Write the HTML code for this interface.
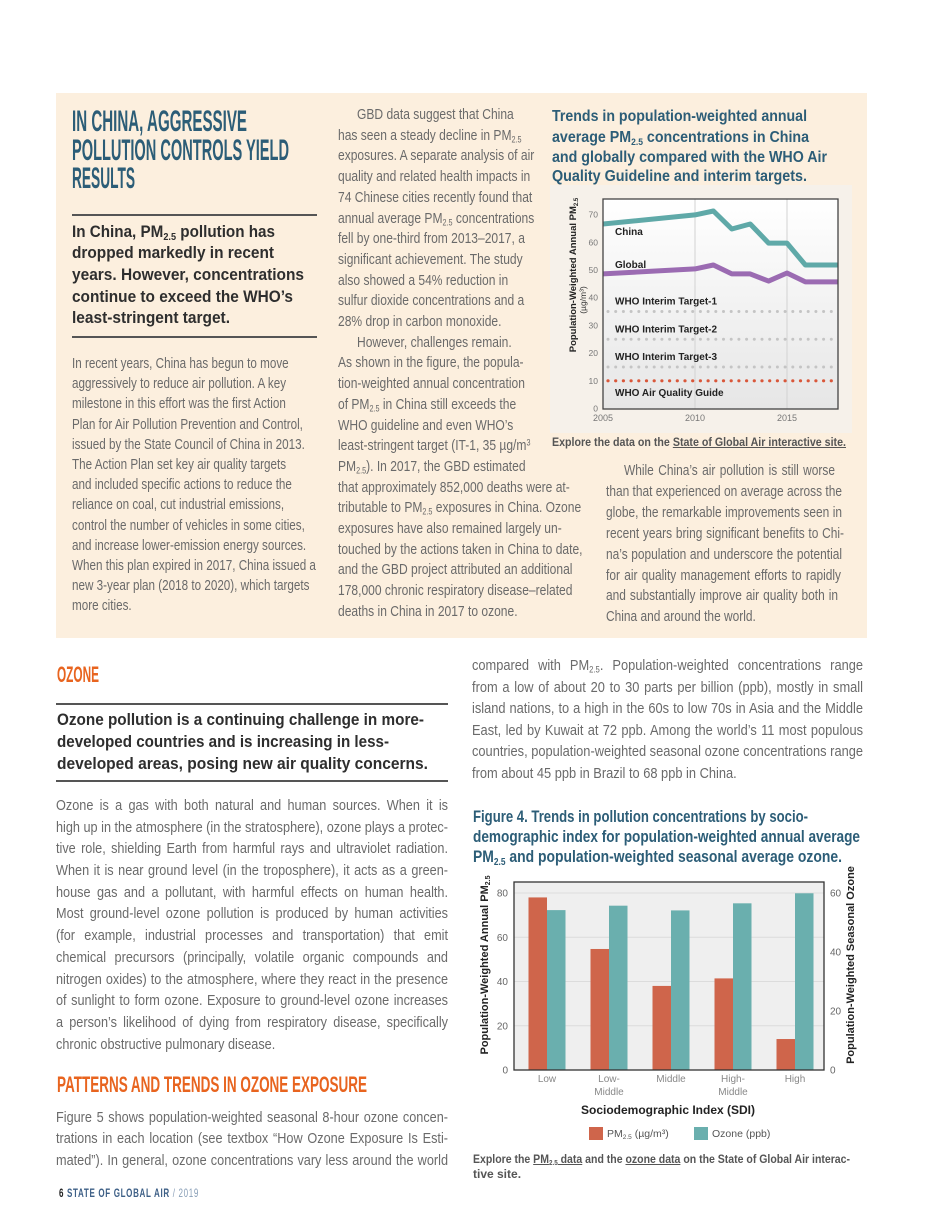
<!DOCTYPE html>
<html><head><meta charset="utf-8">
<style>
html,body{margin:0;padding:0;background:#fff;}
#page{position:relative;width:950px;height:1230px;overflow:hidden;background:#fff;font-family:"Liberation Sans Narrow","Liberation Sans",sans-serif;}
.l{position:absolute;white-space:nowrap;display:inline-block;line-height:1;transform-origin:0 50%;}
.b{font-size:15px;color:#6a6a6a;line-height:15px;}
.j{text-align:justify;text-align-last:justify;}
.h{font-weight:bold;color:#2c5d77;}
.sh{font-weight:bold;color:#2e2e2e;font-size:17px;}
.or{font-weight:bold;color:#e8641f;}
sub{font-size:.6em;vertical-align:-.3em;line-height:0;}
sup{font-size:.6em;vertical-align:.5em;line-height:0;}
.rule{position:absolute;height:1.5px;background:#555;}
u{text-decoration:underline;}
</style></head>
<body>
<div id="page">
<div style="position:absolute;left:56px;top:93px;width:811px;height:545px;background:#fcefde;"></div>
<svg id="chart" width="950" height="1230" style="position:absolute;left:0;top:0;"></svg>

<!-- top-left -->
<div class="l h" data-fit="175" style="left:72px;top:107px;font-size:30px;">IN CHINA, AGGRESSIVE</div>
<div class="l h" data-fit="217" style="left:72px;top:136px;font-size:30px;">POLLUTION CONTROLS YIELD</div>
<div class="l h" data-fit="63" style="left:72px;top:164px;font-size:30px;">RESULTS</div>
<div class="rule" style="left:72px;top:214px;width:245px;"></div>
<div class="l sh" data-fit="203" style="left:72px;top:223px;">In China, PM<sub>2.5</sub> pollution has</div>
<div class="l sh" data-fit="202" style="left:72px;top:244px;">dropped markedly in recent</div>
<div class="l sh" data-fit="232" style="left:72px;top:266px;">years. However, concentrations</div>
<div class="l sh" data-fit="221" style="left:72px;top:288px;">continue to exceed the WHO’s</div>
<div class="l sh" data-fit="158" style="left:72px;top:309px;">least-stringent target.</div>
<div class="rule" style="left:72px;top:336px;width:245px;"></div>

<div class="l b" data-col="A" data-rag="1" data-w="213" style="left:72px;top:356px;">In recent years, China has begun to move</div>
<div class="l b" data-col="A" data-rag="1" data-w="216" style="left:72px;top:376px;">aggressively to reduce air pollution. A key</div>
<div class="l b" data-col="A" data-rag="1" data-w="221" style="left:72px;top:396px;">milestone in this effort was the first Action</div>
<div class="l b" data-col="A" data-rag="1" data-w="230" style="left:72px;top:417px;">Plan for Air Pollution Prevention and Control,</div>
<div class="l b" data-col="A" data-rag="1" data-w="230" style="left:72px;top:437px;">issued by the State Council of China in 2013.</div>
<div class="l b" data-col="A" data-rag="1" data-w="215" style="left:72px;top:457px;">The Action Plan set key air quality targets</div>
<div class="l b" data-col="A" data-rag="1" data-w="220" style="left:72px;top:477px;">and included specific actions to reduce the</div>
<div class="l b" data-col="A" data-rag="1" data-w="213" style="left:72px;top:497px;">reliance on coal, cut industrial emissions,</div>
<div class="l b" data-col="A" data-rag="1" data-w="234" style="left:72px;top:518px;">control the number of vehicles in some cities,</div>
<div class="l b" data-col="A" data-rag="1" data-w="231" style="left:72px;top:538px;">and increase lower-emission energy sources.</div>
<div class="l b" data-col="A" data-rag="1" data-w="242" style="left:72px;top:558px;">When this plan expired in 2017, China issued a</div>
<div class="l b" data-col="A" data-rag="1" data-w="237" style="left:72px;top:578px;">new 3-year plan (2018 to 2020), which targets</div>
<div class="l b" data-col="A" data-rag="1" style="left:72px;top:598px;">more cities.</div>

<!-- middle column -->
<div class="l b" data-col="B" data-rag="1" style="left:357px;top:107px;">GBD data suggest that China</div>
<div class="l b" data-col="B" data-rag="1" style="left:338px;top:128px;">has seen a steady decline in PM<sub>2.5</sub></div>
<div class="l b" data-col="B" data-rag="1" data-w="195" style="left:338px;top:148px;">exposures. A separate analysis of air</div>
<div class="l b" data-col="B" data-rag="1" data-w="195" style="left:338px;top:169px;">quality and related health impacts in</div>
<div class="l b" data-col="B" data-rag="1" data-w="195" style="left:338px;top:190px;">74 Chinese cities recently found that</div>
<div class="l b" data-col="B" data-rag="1" data-w="194" style="left:338px;top:211px;">annual average PM<sub>2.5</sub> concentrations</div>
<div class="l b" data-col="B" data-rag="1" style="left:338px;top:231px;">fell by one-third from 2013–2017, a</div>
<div class="l b" data-col="B" data-rag="1" style="left:338px;top:252px;">significant achievement. The study</div>
<div class="l b" data-col="B" data-rag="1" style="left:338px;top:273px;">also showed a 54% reduction in</div>
<div class="l b" data-col="B" data-rag="1" style="left:338px;top:293px;">sulfur dioxide concentrations and a</div>
<div class="l b" data-col="B" data-rag="1" style="left:338px;top:314px;">28% drop in carbon monoxide.</div>
<div class="l b" data-col="B" data-rag="1" style="left:357px;top:335px;">However, challenges remain.</div>
<div class="l b" data-col="B" data-rag="1" style="left:338px;top:355px;">As shown in the figure, the popula-</div>
<div class="l b" data-col="B" data-rag="1" style="left:338px;top:376px;">tion-weighted annual concentration</div>
<div class="l b" data-col="B" data-rag="1" style="left:338px;top:397px;">of PM<sub>2.5</sub> in China still exceeds the</div>
<div class="l b" data-col="B" data-rag="1" style="left:338px;top:418px;">WHO guideline and even WHO’s</div>
<div class="l b" data-col="B" data-rag="1" style="left:338px;top:438px;">least-stringent target (IT-1, 35 µg/m<sup>3</sup></div>
<div class="l b" data-col="B" data-rag="1" style="left:338px;top:459px;">PM<sub>2.5</sub>). In 2017, the GBD estimated</div>
<div class="l b" data-col="B" data-rag="1" style="left:338px;top:480px;">that approximately 852,000 deaths were at-</div>
<div class="l b" data-col="B" data-rag="1" style="left:338px;top:500px;">tributable to PM<sub>2.5</sub> exposures in China. Ozone</div>
<div class="l b" data-col="B" data-rag="1" style="left:338px;top:521px;">exposures have also remained largely un-</div>
<div class="l b" data-col="B" data-rag="1" style="left:338px;top:542px;">touched by the actions taken in China to date,</div>
<div class="l b" data-col="B" data-rag="1" style="left:338px;top:562px;">and the GBD project attributed an additional</div>
<div class="l b" data-col="B" data-rag="1" style="left:338px;top:583px;">178,000 chronic respiratory disease–related</div>
<div class="l b" data-col="B" data-rag="1" style="left:338px;top:604px;">deaths in China in 2017 to ozone.</div>

<!-- top chart title -->
<div class="l h" data-fit="255" style="left:552px;top:109px;font-size:16px;">Trends in population-weighted annual</div>
<div class="l h" data-fit="257" style="left:552px;top:130px;font-size:16px;">average PM<sub>2.5</sub> concentrations in China</div>
<div class="l h" data-fit="275" style="left:552px;top:150px;font-size:16px;">and globally compared with the WHO Air</div>
<div class="l h" data-fit="255" style="left:552px;top:169px;font-size:16px;">Quality Guideline and interim targets.</div>
<div class="l" data-fit="294" style="left:552px;top:436px;font-size:12px;font-weight:bold;color:#555;">Explore the data on the <u>State of Global Air interactive site.</u></div>

<!-- right column -->
<div class="l b" data-col="C" data-w="211" style="left:624px;top:463px;">While China’s air pollution is still worse</div>
<div class="l b" data-col="C" data-w="236" style="left:606px;top:484px;">than that experienced on average across the</div>
<div class="l b" data-col="C" data-w="236" style="left:606px;top:505px;">globe, the remarkable improvements seen in</div>
<div class="l b" data-col="C" data-w="238" style="left:606px;top:526px;">recent years bring significant benefits to Chi-</div>
<div class="l b" data-col="C" data-w="236" style="left:606px;top:547px;">na’s population and underscore the potential</div>
<div class="l b" data-col="C" data-w="235" style="left:606px;top:568px;">for air quality management efforts to rapidly</div>
<div class="l b" data-col="C" data-w="232" style="left:606px;top:588px;">and substantially improve air quality both in</div>
<div class="l b" data-col="C" style="left:606px;top:609px;">China and around the world.</div>

<!-- ozone section -->
<div class="l or" data-fit="42" style="left:57px;top:664px;font-size:22px;">OZONE</div>
<div class="rule" style="left:56px;top:703px;width:392px;"></div>
<div class="l sh" data-fit="367" style="left:57px;top:711px;">Ozone pollution is a continuing challenge in more-</div>
<div class="l sh" data-fit="332" style="left:57px;top:733px;">developed countries and is increasing in less-</div>
<div class="l sh" data-fit="371" style="left:57px;top:755px;">developed areas, posing new air quality concerns.</div>
<div class="rule" style="left:56px;top:780px;width:392px;"></div>

<div class="l b" data-col="D" data-w="392" style="left:56px;top:798px;">Ozone is a gas with both natural and human sources. When it is</div>
<div class="l b" data-col="D" data-w="392" style="left:56px;top:820px;">high up in the atmosphere (in the stratosphere), ozone plays a protec-</div>
<div class="l b" data-col="D" data-w="392" style="left:56px;top:841px;">tive role, shielding Earth from harmful rays and ultraviolet radiation.</div>
<div class="l b" data-col="D" data-w="392" style="left:56px;top:863px;">When it is near ground level (in the troposphere), it acts as a green-</div>
<div class="l b" data-col="D" data-w="392" style="left:56px;top:885px;">house gas and a pollutant, with harmful effects on human health.</div>
<div class="l b" data-col="D" data-w="392" style="left:56px;top:906px;">Most ground-level ozone pollution is produced by human activities</div>
<div class="l b" data-col="D" data-w="392" style="left:56px;top:928px;">(for example, industrial processes and transportation) that emit</div>
<div class="l b" data-col="D" data-w="392" style="left:56px;top:950px;">chemical precursors (principally, volatile organic compounds and</div>
<div class="l b" data-col="D" data-w="392" style="left:56px;top:972px;">nitrogen oxides) to the atmosphere, where they react in the presence</div>
<div class="l b" data-col="D" data-w="392" style="left:56px;top:993px;">of sunlight to form ozone. Exposure to ground-level ozone increases</div>
<div class="l b" data-col="D" data-w="392" style="left:56px;top:1015px;">a person’s likelihood of dying from respiratory disease, specifically</div>
<div class="l b" data-col="D" style="left:56px;top:1037px;">chronic obstructive pulmonary disease.</div>

<div class="l or" data-fit="310" style="left:57px;top:1074px;font-size:22px;">PATTERNS AND TRENDS IN OZONE EXPOSURE</div>
<div class="l b" data-col="D" data-w="392" style="left:56px;top:1110px;">Figure 5 shows population-weighted seasonal 8-hour ozone concen-</div>
<div class="l b" data-col="D" data-w="392" style="left:56px;top:1131px;">trations in each location (see textbox “How Ozone Exposure Is Esti-</div>
<div class="l b" data-col="D" data-w="392" style="left:56px;top:1153px;">mated”). In general, ozone concentrations vary less around the world</div>

<div class="l" data-fit="140" style="left:59px;top:1187px;font-size:12px;letter-spacing:1px;"><b style="color:#222">6</b> <b style="color:#3d5f86">STATE OF GLOBAL AIR</b> <span style="color:#8aa0b8">/ 2019</span></div>

<!-- lower right -->
<div class="l b" data-col="E" data-w="391" style="left:472px;top:658px;">compared with PM<sub>2.5</sub>. Population-weighted concentrations range</div>
<div class="l b" data-col="E" data-w="391" style="left:472px;top:680px;">from a low of about 20 to 30 parts per billion (ppb), mostly in small</div>
<div class="l b" data-col="E" data-w="391" style="left:472px;top:701px;">island nations, to a high in the 60s to low 70s in Asia and the Middle</div>
<div class="l b" data-col="E" data-w="391" style="left:472px;top:723px;">East, led by Kuwait at 72 ppb. Among the world’s 11 most populous</div>
<div class="l b" data-col="E" data-w="391" style="left:472px;top:744px;">countries, population-weighted seasonal ozone concentrations range</div>
<div class="l b" data-col="E" style="left:472px;top:766px;">from about 45 ppb in Brazil to 68 ppb in China.</div>

<div class="l h" data-fit="335" style="left:473px;top:808px;font-size:17px;">Figure 4. Trends in pollution concentrations by socio-</div>
<div class="l h" data-fit="387" style="left:473px;top:828px;font-size:17px;">demographic index for population-weighted annual average</div>
<div class="l h" data-fit="369" style="left:473px;top:848px;font-size:17px;">PM<sub>2.5</sub> and population-weighted seasonal average ozone.</div>

<div class="l" data-fit="377" style="left:473px;top:1153px;font-size:12px;font-weight:bold;color:#555;">Explore the <u>PM<sub>2.5</sub> data</u> and the <u>ozone data</u> on the State of Global Air interac-</div>
<div class="l" style="left:473px;top:1168px;font-size:12px;font-weight:bold;color:#555;">tive site.</div>
</div>

<script>
// ---- top chart data ----
const lineYears = [2005, 2010, 2011, 2012, 2013, 2014, 2015, 2016, 2017];
const chinaPM = [66.6, 69.9, 71.3, 64.8, 66.6, 59.7, 59.7, 51.8, 51.8];
const globalPM = [48.6, 50.4, 51.8, 48.6, 48.6, 46.0, 48.9, 45.7, 45.7];
const targetValues = [35, 25, 15, 10];
const targetLabels = ["WHO Interim Target-1", "WHO Interim Target-2", "WHO Interim Target-3", "WHO Air Quality Guide"];
const lineYTicks = [0, 10, 20, 30, 40, 50, 60, 70];
const lineXTicks = [2005, 2010, 2015];
// ---- bar chart data ----
const sdiCategories = [["Low"], ["Low-", "Middle"], ["Middle"], ["High-", "Middle"], ["High"]];
const pmValues = [78, 54.7, 38, 41.4, 14];
const ozoneValues = [54.2, 55.7, 54.1, 56.5, 59.9];
const barLeftTicks = [0, 20, 40, 60, 80];
const barRightTicks = [0, 20, 40, 60];

const NS = "http://www.w3.org/2000/svg";
const svg = document.getElementById("chart");
function mk(tag, attrs, parent) {
  const e = document.createElementNS(NS, tag);
  for (const k in attrs) e.setAttribute(k, attrs[k]);
  (parent || svg).appendChild(e);
  return e;
}
const defs = mk("defs", {});
const g1 = mk("linearGradient", {id: "pg", x1: 0, y1: 0, x2: 0, y2: 1}, defs);
mk("stop", {offset: "0", "stop-color": "#ffffff"}, g1);
mk("stop", {offset: "1", "stop-color": "#e6e6e6"}, g1);
const cp = mk("clipPath", {id: "lc"}, defs);
mk("rect", {x: 603, y: 199, width: 235, height: 210}, cp);

// ---- top line chart ----
const lx = yr => 603 + (yr - 2005) * 18.4;
const ly = v => 408.5 - v * 2.77;
let e = mk("rect", {x: 550, y: 185, width: 302, height: 248, fill: "#f6f1ea"});


e = mk("rect", {x: 603, y: 199, width: 235, height: 210, fill: "url(#pg)"});


lineXTicks.forEach(t => {
  if (t > 2005) {
    const gl = mk("line", {x1: lx(t), x2: lx(t), y1: 199, y2: 409, stroke: "#d2d2d2", "stroke-width": 1});
    
    
  }
  const tx = mk("text", {x: lx(t), y: 421, "text-anchor": "middle", "font-size": 9, fill: "#777", "font-family": "Liberation Sans Narrow, Liberation Sans, sans-serif"});
  tx.textContent = t;
  
  
});
lineYTicks.forEach(t => {
  const tx = mk("text", {x: 598, y: ly(t) + 3, "text-anchor": "end", "font-size": 8.5, fill: "#777", "font-family": "Liberation Sans Narrow, Liberation Sans, sans-serif"});
  tx.textContent = t;
  
  
});
targetValues.forEach((v, i) => {
  const col = i === 3 ? "#d9573a" : "#c4c4c4";
  for (let x = 608; x < 838; x += 7.7) {
    const d = mk("circle", {cx: x, cy: ly(v), r: i === 3 ? 1.6 : 1.5, fill: col});
    
    
  }
});
function pathOf(vals) {
  return vals.map((v, i) => (i ? "L" : "M") + lx(lineYears[i]).toFixed(1) + "," + ly(v).toFixed(1)).join(" ") + " L850," + ly(vals[vals.length - 1]).toFixed(1);
}
e = mk("path", {d: pathOf(chinaPM), fill: "none", stroke: "#5fa9a8", "stroke-width": 5, "stroke-linejoin": "round", "clip-path": "url(#lc)"});


e = mk("path", {d: pathOf(globalPM), fill: "none", stroke: "#9b6bb2", "stroke-width": 5, "stroke-linejoin": "round", "clip-path": "url(#lc)"});


e = mk("rect", {x: 603, y: 199, width: 235, height: 210, fill: "none", stroke: "#444", "stroke-width": 1.3});


const lblF = "Liberation Sans Narrow, Liberation Sans, sans-serif";
[["China", 232], ["Global", 265]].forEach(a => {
  const t = mk("text", {x: 615, y: a[1] + 3, "font-size": 10, "font-weight": "bold", fill: "#222", "font-family": lblF});
  t.textContent = a[0];
  
  
});
targetLabels.forEach((s, i) => {
  const t = mk("text", {x: 615, y: ly(targetValues[i]) - 7 + (i === 3 ? 22 : 0), "font-size": 10, "font-weight": "bold", fill: "#222", "font-family": lblF});
  t.textContent = s;
  
  
});
e = mk("text", {x: 0, y: 0, "font-size": 9.5, "font-weight": "bold", fill: "#222", "text-anchor": "middle", "font-family": lblF, transform: "translate(576,275) rotate(-90)"});
e.innerHTML = 'Population-Weighted Annual PM<tspan font-size="6" dy="2">2.5</tspan>';


e = mk("text", {x: 0, y: 0, "font-size": 8.5, fill: "#333", "text-anchor": "middle", "font-family": lblF, transform: "translate(586,300) rotate(-90)"});
e.textContent = "(µg/m³)";



// ---- bar chart ----
const bL = 514, bR = 824, bTop = 882, bBot = 1070;
const band = (bR - bL) / sdiCategories.length;
const bx = i => bL + band * (i + 0.5) + 2;
const yL = v => bBot - v * 2.2125;
const yR = v => bBot - v * 2.95;
e = mk("rect", {x: bL, y: bTop, width: bR - bL, height: bBot - bTop, fill: "#efefef"});


barLeftTicks.forEach(t => {
  if (t > 0) {
    const gl = mk("line", {x1: bL, x2: bR, y1: yL(t), y2: yL(t), stroke: "#dcdcdc", "stroke-width": 1});
    
    
  }
  const tx = mk("text", {x: 508, y: yL(t) + 3.5, "text-anchor": "end", "font-size": 10, fill: "#666", "font-family": lblF});
  tx.textContent = t;
  
  
});
barRightTicks.forEach(t => {
  const tx = mk("text", {x: 830, y: yR(t) + 3.5, "text-anchor": "start", "font-size": 10, fill: "#666", "font-family": lblF});
  tx.textContent = t;
  
  
});
pmValues.forEach((v, i) => {
  const r = mk("rect", {x: bx(i) - 18.5, y: yL(v), width: 18.5, height: bBot - yL(v), fill: "#cf654b"});
  
  
});
ozoneValues.forEach((v, i) => {
  const r = mk("rect", {x: bx(i), y: yR(v), width: 18.5, height: bBot - yR(v), fill: "#6aafae"});
  
  
});
sdiCategories.forEach((c, i) => {
  c.forEach((s, k) => {
    const t = mk("text", {x: bx(i), y: 1082 + k * 13, "text-anchor": "middle", "font-size": 10, fill: "#888", "font-family": lblF});
    t.textContent = s;
    
    
  });
});
e = mk("rect", {x: bL, y: bTop, width: bR - bL, height: bBot - bTop, fill: "none", stroke: "#333", "stroke-width": 1.3});


e = mk("text", {x: 668, y: 1114, "text-anchor": "middle", "font-size": 12, "font-weight": "bold", fill: "#222", "font-family": lblF});
e.textContent = "Sociodemographic Index (SDI)";


e = mk("text", {x: 0, y: 0, "font-size": 11, "font-weight": "bold", fill: "#222", "text-anchor": "middle", "font-family": lblF, transform: "translate(488,965) rotate(-90)"});
e.innerHTML = 'Population-Weighted Annual PM<tspan font-size="7" dy="2">2.5</tspan>';


e = mk("text", {x: 0, y: 0, "font-size": 11, "font-weight": "bold", fill: "#222", "text-anchor": "middle", "font-family": lblF, transform: "translate(854,965) rotate(-90)"});
e.textContent = "Population-Weighted Seasonal Ozone";


e = mk("rect", {x: 589, y: 1127, width: 14, height: 13, fill: "#cf654b"});


e = mk("text", {x: 607, y: 1137, "font-size": 10.5, fill: "#555", "font-family": lblF});
e.innerHTML = 'PM<tspan font-size="6.5" dy="2">2.5</tspan><tspan dy="-2"> (µg/m³)</tspan>';


e = mk("rect", {x: 694, y: 1127, width: 14, height: 13, fill: "#6aafae"});


e = mk("text", {x: 712, y: 1137, "font-size": 10.5, fill: "#555", "font-family": lblF});
e.textContent = "Ozone (ppb)";



// ---- text fitting ----
document.querySelectorAll('[data-fit]').forEach(el => {
  const w = +el.dataset.fit, n = el.getBoundingClientRect().width;
  if (n > 0) el.style.transform = 'scaleX(' + (w / n) + ')';
});
const cols = {};
document.querySelectorAll('[data-col]').forEach(el => { (cols[el.dataset.col] = cols[el.dataset.col] || []).push(el); });
for (const k in cols) {
  const list = cols[k];
  const rag = list[0].dataset.rag;
  const ratios = [];
  list.forEach(el => { if (el.dataset.w) ratios.push(+el.dataset.w / el.getBoundingClientRect().width); });
  let s = 1;
  if (ratios.length) s = rag ? ratios.reduce((a, b) => a + b, 0) / ratios.length : Math.min.apply(null, ratios);
  list.forEach(el => {
    if (el.dataset.w && !rag) { el.style.width = (+el.dataset.w / s) + 'px'; el.classList.add('j'); }
    el.style.transform = 'scaleX(' + s + ')';
  });
}
</script>
</body></html>
